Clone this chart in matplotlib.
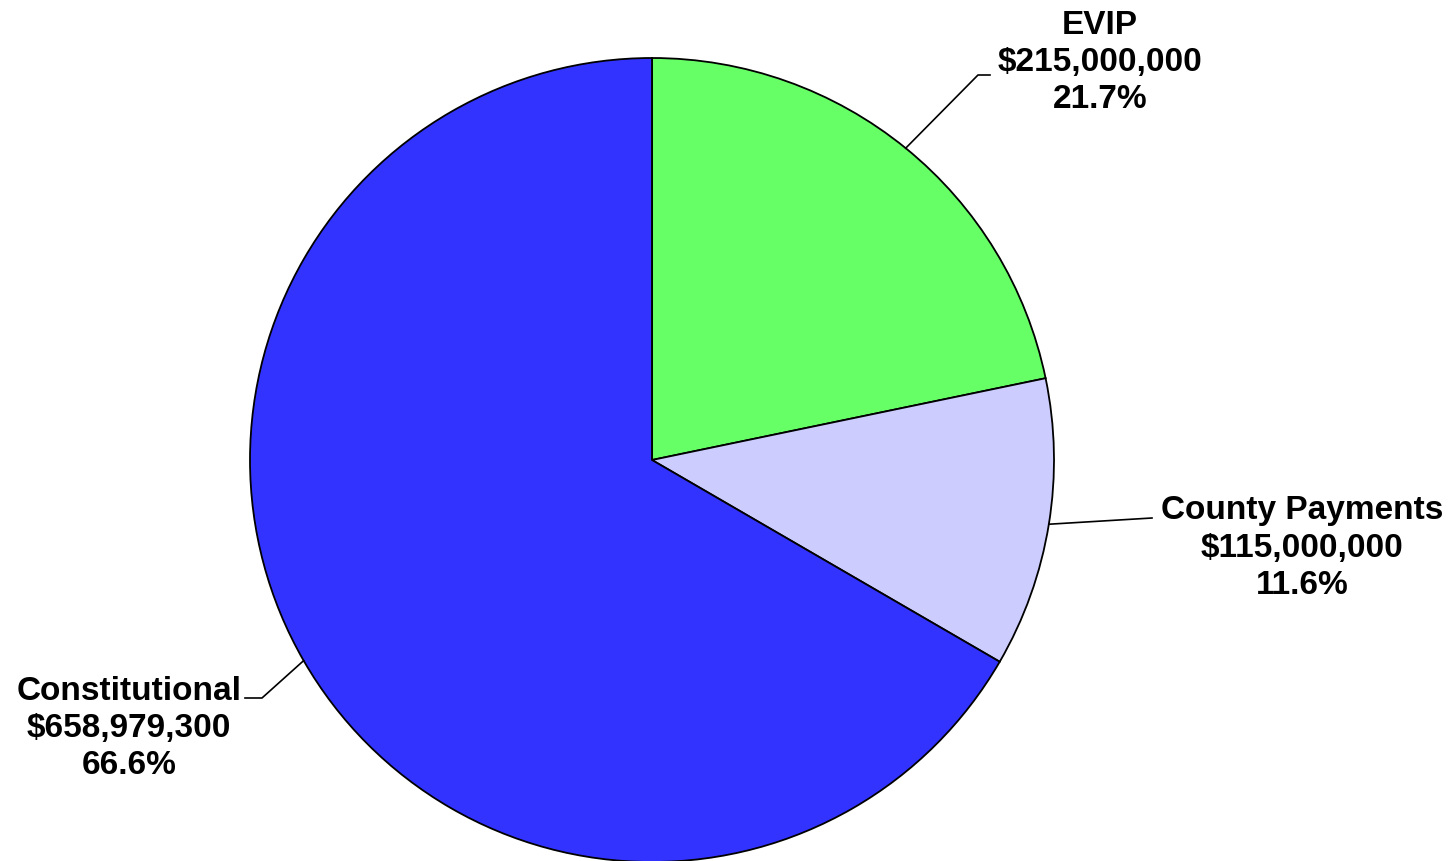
import numpy as np
import matplotlib.pyplot as plt

plt.rcParams['font.family'] = ['Liberation Sans', 'DejaVu Sans']

labels = ["EVIP", "County Payments", "Constitutional"]
amounts = np.array([215000000, 115000000, 658979300])
colors = ["#66FF66", "#CCCCFF", "#3333FF"]

fig = plt.figure(figsize=(14.56, 8.61), dpi=100)
ax = fig.add_axes([0, 0, 1, 1])

cx, cy, r = 652, 401, 402
wedges, _ = ax.pie(amounts, colors=colors, startangle=90, counterclock=False,
                   radius=r, center=(cx, cy), frame=True,
                   wedgeprops=dict(edgecolor='black', linewidth=1.3))
ax.set_xlim(0, 1456)
ax.set_ylim(0, 861)
ax.set_aspect('equal')
ax.axis('off')

pct = amounts / amounts.sum() * 100

# label text positions and leader elbows (pixel coords, y up)
text_pos = [(1100, 799), (1302, 313), (129, 133)]
elbows = [[(978, 786), (990, 786)], [(1152, 343)], [(262, 163), (245, 163)]]

for w, lab, amt, p, tp, el in zip(wedges, labels, amounts, pct, text_pos, elbows):
    ang = np.deg2rad((w.theta1 + w.theta2) / 2)
    ex, ey = cx + r * np.cos(ang), cy + r * np.sin(ang)
    pts = [(ex, ey)] + el
    ax.plot([q[0] for q in pts], [q[1] for q in pts], color='black', lw=1.2)
    ax.text(tp[0], tp[1], f"{lab}\n${amt:,.0f}\n{p:.1f}%", ha='center', va='center',
            multialignment='center', fontsize=24, fontweight='bold', linespacing=1.25)

fig.savefig("out.png", dpi=100)
